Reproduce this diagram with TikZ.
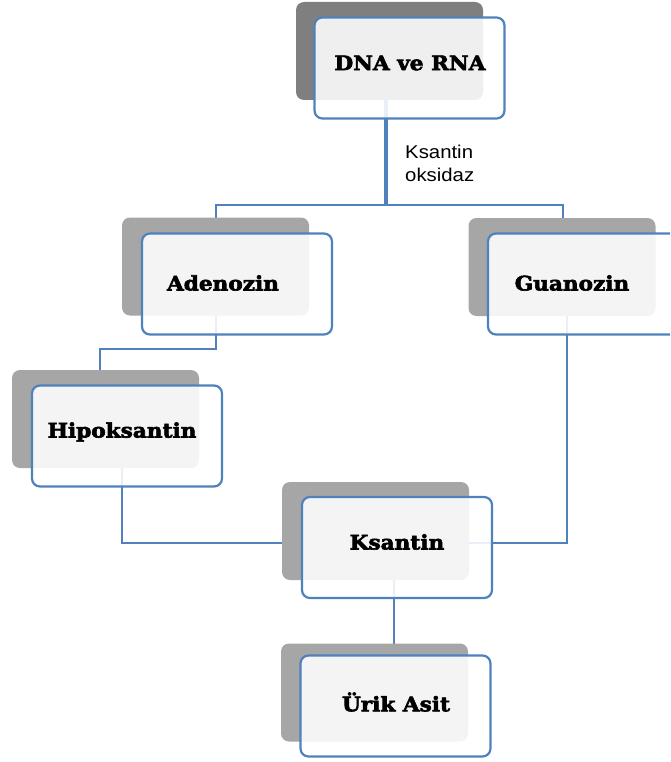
\documentclass[tikz,border=0pt]{standalone}
\usepackage{fontspec}
\newfontfamily\boxfont[FakeStretch=1.08, FakeBold=3]{DejaVu Serif}
\newfontfamily\lblfont[FakeStretch=1.1]{Liberation Sans}
\definecolor{accent}{HTML}{4F81BD}
\definecolor{shadelight}{HTML}{A6A6A6}
\definecolor{shadedark}{HTML}{7F7F7F}
\pgfdeclarelayer{bg}
\pgfsetlayers{bg,main}
\begin{document}
\begin{tikzpicture}[x=1pt,y=-1pt,
  shadebox/.style={fill=shadelight, rounded corners=8pt, minimum width=187pt, minimum height=98pt, inner sep=0pt},
  card/.style={draw=accent, line width=2.2pt, fill=white, fill opacity=0.88, rounded corners=8pt, minimum width=190pt, minimum height=101pt, inner sep=0pt},
  title/.style={font=\boxfont\bfseries\fontsize{20}{23}\selectfont, inner sep=0pt},
  conn/.style={draw=accent, line width=2.2pt},
  trunk/.style={draw=accent, line width=4pt}]
\useasboundingbox (0,0) rectangle (670,762);
\clip (0,0) rectangle (670,762);
% shadows
\node[shadebox, fill=shadedark] (sdna) at (389.5,51) {};
\node[shadebox] (sade) at (215.5,266.5) {};
\node[shadebox] (sgua) at (562,267) {};
\node[shadebox] (ship) at (105.5,419) {};
\node[shadebox] (sksa) at (375.5,531) {};
\node[shadebox] (suri) at (374.5,692.5) {};
% cards
\node[card] (dna) at (409.5,68) {};
\node[card] (ade) at (237,284) {};
\node[card] (gua) at (583,284) {};
\node[card] (hip) at (127,436) {};
\node[card] (ksa) at (397,547.5) {};
\node[card] (uri) at (395.5,706) {};
% texts
\node[title] (tdna) at (410,63) {DNA ve RNA};
\node[title] (tade) at (223,283) {Adenozin};
\node[title] (tgua) at (572,283) {Guanozin};
\node[title] (thip) at (122,432) {Hipoksantin};
\node[title] (tksa) at (397,542) {Ksantin};
\node[title] (turi) at (396,702) {Ürik Asit};
\node[font=\lblfont\fontsize{18.5}{23}\selectfont, align=left, anchor=north west, inner sep=0pt] (enz) at (405,145) {Ksantin\\oksidaz};
% junction coordinates
\coordinate (jt) at (386,205);
\coordinate (ja) at (216,205);
\coordinate (jg) at (563,205);
\coordinate (jah) at (216,349);
\coordinate (jh) at (100,349);
\coordinate (jhk) at (122,543);
\coordinate (jgk) at (567,543);
\coordinate (jku) at (394,600);
\begin{pgfonlayer}{bg}
\draw[trunk] (dna.center -| jt) -- (jt);
\draw[conn] (ade.center -| ja) -- (ja) -- (jg) -- (gua.center -| jg);
\draw[conn] (ade.center -| jah) -- (jah) -- (jh) -- (hip.center -| jh);
\draw[conn] (hip.center -| jhk) -- (jhk) -- (ksa.center |- jhk);
\draw[conn] (gua.center -| jgk) -- (jgk) -- (ksa.center |- jgk);
\draw[conn] (ksa.center -| jku) -- (uri.center -| jku);
\end{pgfonlayer}
\end{tikzpicture}
\end{document}
